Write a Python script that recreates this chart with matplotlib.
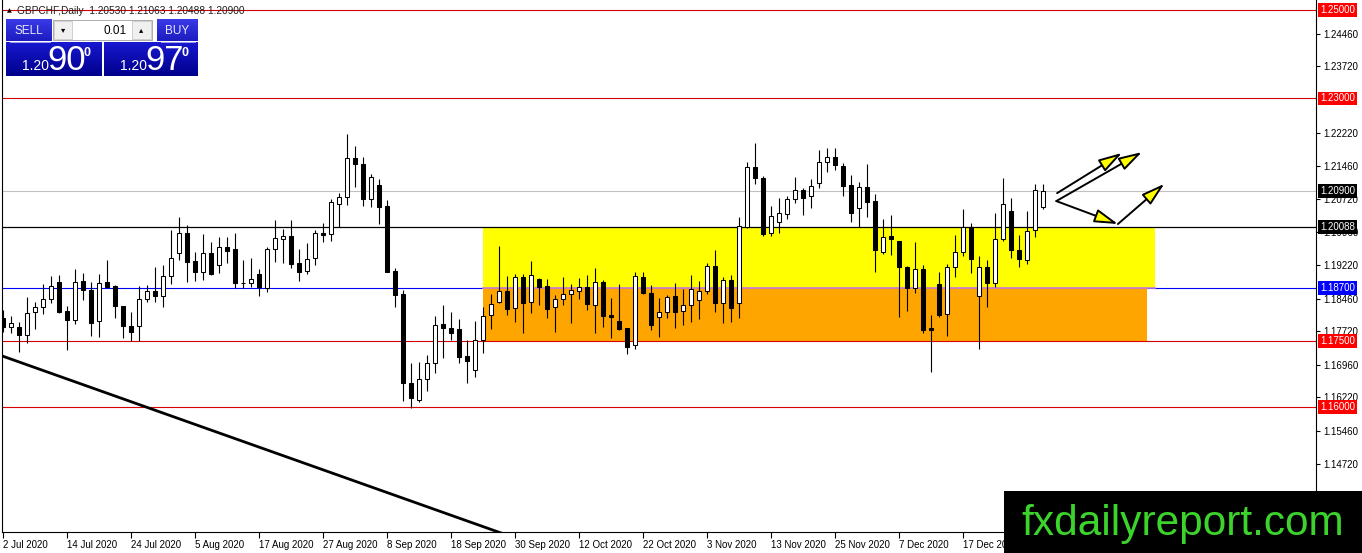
import numpy as np
import matplotlib.pyplot as plt
from matplotlib.patches import Rectangle, FancyArrowPatch
import matplotlib.transforms as mtransforms

plt.rcParams['font.family'] = ['Liberation Sans', 'DejaVu Sans']

# GBPCHF daily candles, 2 Jul 2020 .. 31 Dec 2020
opens = [1.1802, 1.1782, 1.1782, 1.1764, 1.1816, 1.1827, 1.1845, 1.1884, 1.1818, 1.1798,
         1.1886, 1.1866, 1.1795, 1.1884, 1.1875, 1.1829, 1.1784, 1.1784, 1.1845, 1.1863,
         1.1852, 1.1897, 1.1949, 1.1995, 1.1931, 1.1906, 1.1949, 1.1922, 1.1963, 1.1959,
         1.1881, 1.1881, 1.1902, 1.1870, 1.1959, 1.1981, 1.1988, 1.1927, 1.1909, 1.1938,
         1.1995, 1.1993, 1.2060, 1.2076, 1.2165, 1.2151, 1.2072, 1.2104, 1.2056, 1.1909,
         1.1857, 1.1655, 1.1616, 1.1664, 1.1700, 1.1789, 1.1780, 1.1777, 1.1716, 1.1684,
         1.1752, 1.1809, 1.1838, 1.1863, 1.1825, 1.1895, 1.1838, 1.1891, 1.1875, 1.1827,
         1.1845, 1.1857, 1.1863, 1.1872, 1.1832, 1.1884, 1.1809, 1.1795, 1.1780, 1.1741,
         1.1895, 1.1859, 1.1804, 1.1816, 1.1852, 1.1818, 1.1832, 1.1843, 1.1863, 1.1920,
         1.1836, 1.1888, 1.1836, 1.2008, 1.2144, 1.2119, 1.1995, 1.2020, 1.2038, 1.2072,
         1.2092, 1.2079, 1.2108, 1.2156, 1.2167, 1.2147, 1.2104, 1.2051, 1.2099, 1.2067,
         1.1952, 1.1988, 1.1977, 1.1918, 1.1870, 1.1913, 1.1780, 1.1879, 1.1811, 1.1918,
         1.1952, 1.2008, 1.1852, 1.1918, 1.1881, 1.1981, 1.2045, 1.1956, 1.1934, 1.2002,
         1.2053]
highs = [1.1820, 1.1807, 1.1793, 1.1850, 1.1838, 1.1879, 1.1897, 1.1900, 1.1829, 1.1913,
         1.1904, 1.1884, 1.1902, 1.1934, 1.1877, 1.1829, 1.1816, 1.1875, 1.1877, 1.1918,
         1.1922, 1.2002, 1.2031, 1.2013, 1.1952, 1.1993, 1.1974, 1.1986, 1.1986, 1.1995,
         1.1934, 1.1938, 1.1913, 1.1963, 1.2024, 1.2004, 1.2024, 1.1959, 1.1972, 1.2002,
         1.2017, 1.2072, 1.2085, 1.2219, 1.2192, 1.2167, 1.2128, 1.2117, 1.2070, 1.1915,
         1.1866, 1.1700, 1.1702, 1.1718, 1.1807, 1.1832, 1.1816, 1.1800, 1.1752, 1.1795,
         1.1827, 1.1857, 1.1965, 1.1897, 1.1902, 1.1902, 1.1931, 1.1893, 1.1891, 1.1854,
         1.1895, 1.1879, 1.1893, 1.1900, 1.1915, 1.1888, 1.1847, 1.1879, 1.1780, 1.1906,
         1.1906, 1.1877, 1.1847, 1.1854, 1.1881, 1.1868, 1.1900, 1.1886, 1.1927, 1.1956,
         1.1895, 1.1900, 1.2031, 1.2156, 1.2199, 1.2124, 1.2056, 1.2074, 1.2079, 1.2122,
         1.2097, 1.2117, 1.2183, 1.2187, 1.2187, 1.2153, 1.2126, 1.2110, 1.2151, 1.2083,
         1.2026, 1.2036, 1.1977, 1.1920, 1.1974, 1.1922, 1.1809, 1.1906, 1.1925, 1.1990,
         1.2049, 1.2017, 1.1943, 1.1934, 1.2040, 1.2119, 1.2074, 1.1990, 1.2045, 1.2106,
         1.21063]
lows = [1.1770, 1.1768, 1.1725, 1.1746, 1.1777, 1.1811, 1.1836, 1.1813, 1.1730, 1.1789,
        1.1843, 1.1761, 1.1759, 1.1872, 1.1802, 1.1757, 1.1750, 1.1750, 1.1838, 1.1838,
        1.1827, 1.1879, 1.1934, 1.1884, 1.1886, 1.1888, 1.1900, 1.1904, 1.1927, 1.1870,
        1.1870, 1.1872, 1.1852, 1.1861, 1.1929, 1.1927, 1.1915, 1.1886, 1.1902, 1.1922,
        1.1974, 1.1977, 1.2008, 1.2058, 1.2099, 1.2056, 1.2054, 1.2015, 1.1906, 1.1827,
        1.1614, 1.1598, 1.1612, 1.1637, 1.1678, 1.1712, 1.1752, 1.1700, 1.1655, 1.1668,
        1.1723, 1.1777, 1.1836, 1.1809, 1.1793, 1.1768, 1.1813, 1.1832, 1.1802, 1.1770,
        1.1832, 1.1791, 1.1845, 1.1820, 1.1768, 1.1782, 1.1757, 1.1775, 1.1721, 1.1732,
        1.1857, 1.1775, 1.1759, 1.1802, 1.1780, 1.1786, 1.1793, 1.1800, 1.1857, 1.1816,
        1.1791, 1.1793, 1.1802, 1.2006, 1.2106, 1.1988, 1.1988, 1.1995, 1.2026, 1.2063,
        1.2036, 1.2051, 1.2097, 1.2133, 1.2138, 1.2079, 1.2020, 1.2008, 1.2031, 1.1906,
        1.1947, 1.1945, 1.1804, 1.1818, 1.1859, 1.1768, 1.1680, 1.1804, 1.1761, 1.1895,
        1.1943, 1.1904, 1.1732, 1.1827, 1.1872, 1.1977, 1.1938, 1.1918, 1.1925, 1.1986,
        1.20488]
closes = [1.1782, 1.1791, 1.1764, 1.1813, 1.1827, 1.1845, 1.1875, 1.1816, 1.1798, 1.1884,
          1.1866, 1.1791, 1.1881, 1.1872, 1.1829, 1.1784, 1.1770, 1.1845, 1.1863, 1.1852,
          1.1897, 1.1938, 1.1995, 1.1929, 1.1906, 1.1949, 1.1902, 1.1963, 1.1954, 1.1881,
          1.1881, 1.1891, 1.1872, 1.1959, 1.1983, 1.1988, 1.1925, 1.1906, 1.1936, 1.1995,
          1.1990, 1.2065, 1.2076, 1.2165, 1.2151, 1.2072, 1.2122, 1.2054, 1.1906, 1.1854,
          1.1655, 1.1621, 1.1664, 1.1700, 1.1786, 1.1780, 1.1768, 1.1714, 1.1705, 1.1752,
          1.1807, 1.1834, 1.1863, 1.1823, 1.1895, 1.1836, 1.1900, 1.1872, 1.1823, 1.1845,
          1.1857, 1.1866, 1.1872, 1.1834, 1.1884, 1.1807, 1.1804, 1.1777, 1.1736, 1.1897,
          1.1859, 1.1786, 1.1816, 1.1850, 1.1816, 1.1832, 1.1868, 1.1863, 1.1920, 1.1836,
          1.1888, 1.1825, 1.2011, 1.2144, 1.2119, 1.1993, 1.2033, 1.2040, 1.2072, 1.2092,
          1.2074, 1.2101, 1.2156, 1.2167, 1.2149, 1.2101, 1.2040, 1.2099, 1.2065, 1.1956,
          1.1986, 1.1981, 1.1918, 1.1870, 1.1913, 1.1775, 1.1775, 1.1809, 1.1918, 1.1952,
          1.2008, 1.1936, 1.1918, 1.1881, 1.1981, 1.2060, 1.1956, 1.1936, 1.1999, 1.2092,
          1.2090]

date_labels = ['2 Jul 2020', '14 Jul 2020', '24 Jul 2020', '5 Aug 2020', '17 Aug 2020',
               '27 Aug 2020', '8 Sep 2020', '18 Sep 2020', '30 Sep 2020', '12 Oct 2020',
               '22 Oct 2020', '3 Nov 2020', '13 Nov 2020', '25 Nov 2020', '7 Dec 2020',
               '17 Dec 2020']
bars_per_label = 8

price_ticks = [1.24460, 1.23720, 1.22220, 1.21460, 1.20720, 1.19960, 1.19220,
               1.18460, 1.17720, 1.16960, 1.16220, 1.15460, 1.14720]

red_levels = [1.25, 1.23, 1.175, 1.16]
black_level = 1.20088
blue_level = 1.187
bid_price = 1.20900

# support / resistance boxes (bar index range, price range)
yellow_zone = (60, 144, 1.187, 1.20088)
orange_zone = (60, 143, 1.175, 1.187)

# hand-drawn trend line and arrows (bar index, price)
trend_line = [(-1, 1.1722), (66, 1.1291)]
arrows = [((131.8, 1.2085), (139.9, 1.2176)),
          ((131.7, 1.2067), (142.4, 1.2178)),
          ((131.7, 1.2067), (139.4, 1.2015)),
          ((139.4, 1.2015), (145.2, 1.2106))]

ohlc = np.array([opens, highs, lows, closes])
x = np.arange(len(opens))

fig = plt.figure(figsize=(13.62, 5.53), dpi=100)
fig.patch.set_facecolor('white')
ax = fig.add_axes([2 / 1362, 21 / 553, 1314 / 1362, 532 / 553])
ax.set_xlim(-0.09, 164.16)
ax.set_ylim(1.131709, 1.252266)

# zones
for (x0, x1, y0, y1), col in [(yellow_zone, '#ffff00'), (orange_zone, '#ffa500')]:
    ax.add_patch(Rectangle((x0, y0), x1 - x0, y1 - y0, fc=col, ec='none', zorder=1))

# horizontal levels
ax.axhline(blue_level, color='#0000ff', lw=0.8, zorder=0.5)
ax.plot([yellow_zone[0], yellow_zone[1]], [blue_level, blue_level], color='#c878d8', lw=1.2, zorder=2)
for lv in red_levels:
    ax.axhline(lv, color='#d80000', lw=0.8, zorder=2)
ax.axhline(black_level, color='black', lw=0.9, zorder=2)
ax.axhline(bid_price, color='#c0c0c0', lw=0.8, zorder=2)

# candles
o, h, l, c = ohlc
ax.vlines(x, l, h, color='black', lw=0.8, zorder=3)
bull = c >= o
ax.bar(x, np.abs(c - o), bottom=np.minimum(o, c), width=0.5,
       color=np.where(bull, 'white', 'black'), edgecolor='black', linewidth=0.75, zorder=4)

# trend line
(tx0, ty0), (tx1, ty1) = trend_line
ax.plot([tx0, tx1], [ty0, ty1], color='black', lw=2.0, zorder=3)

# arrows
for start, end in arrows:
    ax.add_patch(FancyArrowPatch(start, end, arrowstyle='-|>,head_length=1.1,head_width=0.32',
                                 mutation_scale=13, fc='#ffff00', ec='black', lw=1.4,
                                 shrinkA=0, shrinkB=0, zorder=6))

# axes styling
for side in ['left', 'bottom', 'right']:
    ax.spines[side].set_color('black')
    ax.spines[side].set_linewidth(0.8)
ax.spines['top'].set_visible(False)
ax.yaxis.tick_right()
ax.set_yticks(price_ticks)
ax.set_yticklabels([f'{v:.5f}' for v in price_ticks])
ax.tick_params(axis='y', length=3, width=0.8, pad=2, labelsize=7)
ax.set_xticks(np.arange(len(date_labels)) * bars_per_label)
ax.set_xticklabels(date_labels)
ax.tick_params(axis='x', length=4, width=0.8, pad=2, labelsize=7)
for lbl in ax.get_xticklabels():
    lbl.set_horizontalalignment('left')

# price tags on the right scale
trans = mtransforms.blended_transform_factory(ax.transAxes, ax.transData)
tags = [(1.25, '#ff0000'), (1.23, '#ff0000'), (bid_price, 'black'), (black_level, 'black'),
        (blue_level, '#0000ff'), (1.175, '#ff0000'), (1.16, '#ff0000')]
for val, col in tags:
    ax.text(1.0032, val, f'{val:.5f}', transform=trans, color='white', fontsize=7,
            ha='left', va='center', clip_on=False, zorder=10,
            bbox=dict(boxstyle='square,pad=0.18', fc=col, ec='none'))

# overlay for the terminal widgets and logo
ov = fig.add_axes([0, 0, 1, 1], zorder=5)
ov.patch.set_alpha(0)
ov.axis('off')


def grad_box(x0, y0, x1, y1, top, bottom):
    t = np.array(plt.matplotlib.colors.to_rgb(top))
    b = np.array(plt.matplotlib.colors.to_rgb(bottom))
    g = np.linspace(0, 1, 32)[:, None, None]
    img = t * (1 - g) + b * g
    img = np.repeat(img, 2, axis=1)
    ov.imshow(img, extent=(x0, x1, y1, y0), origin='upper', aspect='auto', zorder=1)


ov.text(7, 10.5, '\u25b2', fontsize=4.5, color='black', va='center', ha='left', family='DejaVu Sans')
ov.text(17, 10.5, 'GBPCHF,Daily  1.20530 1.21063 1.20488 1.20900', fontsize=7.3,
        color='#202020', va='center', ha='left')

grad_box(6, 20, 52, 41.5, '#3a3ae8', '#1c1cc0')
grad_box(157, 20, 198, 41.5, '#3a3ae8', '#1c1cc0')
grad_box(6, 42, 102, 76, '#1818d0', '#00008c')
grad_box(104, 42, 198, 76, '#1818d0', '#00008c')
ov.plot([10, 50], [41.6, 41.6], color='#b8b8f0', lw=0.6, zorder=2)
ov.plot([161, 195], [41.6, 41.6], color='#b8b8f0', lw=0.6, zorder=2)
ov.text(29, 31, 'SELL', color='#e8e8ff', fontsize=8.5, ha='center', va='center', zorder=3)
ov.text(177, 31, 'BUY', color='#e8e8ff', fontsize=8.5, ha='center', va='center', zorder=3)

ov.add_patch(Rectangle((53, 20), 99, 20, fc='white', ec='#a0a0a0', lw=0.6, zorder=1))
ov.add_patch(Rectangle((54, 21), 18, 18, fc='#f0f0f0', ec='#c0c0c0', lw=0.5, zorder=2))
ov.add_patch(Rectangle((132, 21), 19, 18, fc='#f0f0f0', ec='#c0c0c0', lw=0.5, zorder=2))
ov.text(63, 30, '\u25be', fontsize=6, ha='center', va='center', zorder=3, family='DejaVu Sans')
ov.text(141.5, 30, '\u25b4', fontsize=6, ha='center', va='center', zorder=3, family='DejaVu Sans')
ov.text(127, 30.5, '0.01', fontsize=8.5, ha='right', va='center', zorder=3)

for bx, big in [(0, '90'), (98, '97')]:
    ov.text(22 + bx, 70, '1.20', color='white', fontsize=10, ha='left', va='baseline', zorder=3)
    ov.text(47 + bx, 70, big, color='white', fontsize=25, ha='left', va='baseline', zorder=3)
    ov.text(84 + bx, 56, '0', color='white', fontsize=9, ha='left', va='baseline', zorder=3,
            weight='bold')

ov.add_patch(Rectangle((1004, 491), 358, 62, fc='black', ec='none', zorder=8))
ov.text(1183, 535, 'fxdailyreport.com', color='#3cd42c', fontsize=30.5,
        ha='center', va='baseline', zorder=9)

ov.set_xlim(0, 1362)
ov.set_ylim(553, 0)

fig.savefig('out.png', dpi=100)
